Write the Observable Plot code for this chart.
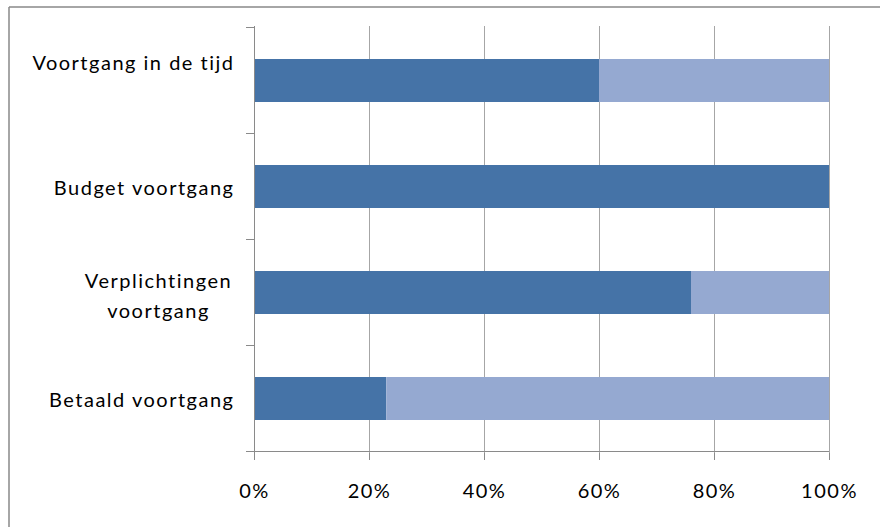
<!DOCTYPE html>
<html>
<head>
<meta charset="utf-8">
<script src="https://cdn.jsdelivr.net/npm/d3@7"></script>
<script src="https://cdn.jsdelivr.net/npm/@observablehq/plot@0.6"></script>
<style>
  html, body { margin: 0; padding: 0; background: #fff; }
  #chart { width: 880px; height: 527px; }
  #chart svg text { letter-spacing: 1.5px; }
</style>
</head>
<body>
<div id="chart"></div>
<script>
// ---- data ----
const categories = ["Voortgang in de tijd", "Budget voortgang", "Verplichtingen\nvoortgang", "Betaald voortgang"];
const completed = [60, 100, 76, 23];
const remaining = [40, 0, 24, 77];
const parts = ["voortgang", "rest"];
const xTicks = [0, 20, 40, 60, 80, 100];

// ---- styling ----
const partColors = ["#4573a7", "#95a9d1"];
const gridColor = "#a6a6a6";
const axisColor = "#8a8a8a";

const rows = categories.flatMap((c, i) => [
  {category: c, part: parts[0], value: completed[i]},
  {category: c, part: parts[1], value: remaining[i]}
]);

const firstLabel = categories.slice(0, 1);
const multiLine = categories.filter((c, i) => i > 0 && c.includes("\n"));
const singleLine = categories.filter((c, i) => i > 0 && !c.includes("\n"));

const chart = Plot.plot({
  width: 880,
  height: 527,
  marginLeft: 254,
  marginRight: 51,
  marginTop: 26,
  marginBottom: 74,
  style: {fontFamily: "Lato, 'Open Sans', sans-serif", fontSize: "20px", color: "#000", background: "#fff", overflow: "visible"},
  x: {domain: [0, 100], axis: null},
  y: {domain: categories, axis: null, paddingInner: 0.59, paddingOuter: 0.295},
  color: {domain: parts, range: partColors},
  marks: [
    Plot.ruleX(xTicks.slice(1), {stroke: gridColor, strokeWidth: 1}),
    Plot.barX(rows, {x: "value", y: "category", fill: "part"}),
    Plot.ruleX([0], {stroke: axisColor, strokeWidth: 1}),
    Plot.axisX(xTicks, {tickFormat: d => d + "%", tickSize: 7, tickPadding: 23, stroke: axisColor, fill: "#000", fontSize: 20, label: null}),
    Plot.text(firstLabel, {x: () => 0, y: d => d, text: d => d, textAnchor: "end", dx: -20, dy: -17, fontSize: 20, fill: "#000"}),
    Plot.text(singleLine, {x: () => 0, y: d => d, text: d => d, textAnchor: "end", dx: -20, dy: 2, fontSize: 20, fill: "#000"}),
    Plot.text(multiLine, {x: () => 0, y: d => d, text: d => d, textAnchor: "middle", dx: -96, dy: 0, lineHeight: 1.5, fontSize: 20, fill: "#000"})
  ]
});

// axis frame lines and category separator ticks, positioned from the Plot scales
const svg = d3.select(chart);
const xs = chart.scale("x");
const ys = chart.scale("y");
const x0 = xs.apply(0), x100 = xs.apply(100);
const gap = ys.step - ys.bandwidth;
const bounds = categories.map(c => ys.apply(c) - gap / 2);
bounds.push(ys.apply(categories[categories.length - 1]) + ys.bandwidth + gap / 2);
const yBottom = bounds[bounds.length - 1];
const g = svg.append("g").attr("stroke", axisColor).attr("stroke-width", 1).attr("shape-rendering", "crispEdges");
bounds.forEach(y => g.append("line").attr("x1", x0 - 8).attr("x2", x0).attr("y1", y).attr("y2", y));
g.append("line").attr("x1", x0 - 8).attr("x2", x100).attr("y1", yBottom).attr("y2", yBottom);
// outer chart border (top and left edges)
const b = svg.append("g").attr("stroke", "#888").attr("stroke-width", 1.5);
b.append("line").attr("x1", 9).attr("x2", 880).attr("y1", 7).attr("y2", 7);
b.append("line").attr("x1", 9).attr("x2", 9).attr("y1", 7).attr("y2", 527);

document.getElementById("chart").appendChild(chart);
</script>
</body>
</html>
